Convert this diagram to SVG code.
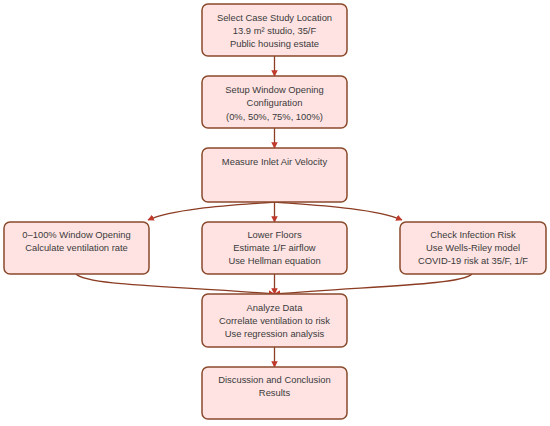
<svg xmlns="http://www.w3.org/2000/svg" width="550" height="426" viewBox="0 0 550 426">
<defs>
<style>
.box{fill:#ffe3e3;stroke:#8a4a2c;stroke-width:1.5}
.lbl{font-family:"Liberation Sans",Arial,sans-serif;font-size:9.4px;fill:#3a3a3a;text-anchor:middle}
.edge{fill:none;stroke:#8b3c22;stroke-width:1.3}
</style>
<marker id="arr" viewBox="0 0 10 10" refX="9" refY="5" markerWidth="5" markerHeight="5" orient="auto-start-reverse">
<path d="M0,0 L10,5 L0,10 z" fill="#c0392b"/>
</marker>
</defs>
<rect width="550" height="426" fill="#ffffff"/>
<g id="connectors">
<path class="edge" d="M274.5,56 L274.5,76" marker-end="url(#arr)"/>
<path class="edge" d="M274.5,128 L274.5,148" marker-end="url(#arr)"/>
<path class="edge" d="M274.5,202 C235,205 175,208 148,220" marker-end="url(#arr)"/>
<path class="edge" d="M274.5,202 L274.5,222" marker-end="url(#arr)"/>
<path class="edge" d="M274.5,202 C314,205 374,208 402,220" marker-end="url(#arr)"/>
<path class="edge" d="M76,274 C88,286 180,286 274.5,294" marker-end="url(#arr)"/>
<path class="edge" d="M274.5,274 L274.5,294" marker-end="url(#arr)"/>
<path class="edge" d="M472,274 C462,285 370,286 274.5,294" marker-end="url(#arr)"/>
<path class="edge" d="M274.5,347 L274.5,367" marker-end="url(#arr)"/>
</g>
<g id="n1">
<rect class="box" x="202" y="4" width="145" height="52" rx="6"/>
<text class="lbl" x="274.5" y="20.5">Select Case Study Location</text>
<text class="lbl" x="274.5" y="33.5">13.9 m² studio, 35/F</text>
<text class="lbl" x="274.5" y="46.5">Public housing estate</text>
</g>
<g id="n2">
<rect class="box" x="202" y="76" width="145" height="52" rx="6"/>
<text class="lbl" x="274.5" y="93">Setup Window Opening</text>
<text class="lbl" x="274.5" y="106">Configuration</text>
<text class="lbl" x="274.5" y="119.5">(0%, 50%, 75%, 100%)</text>
</g>
<g id="n3">
<rect class="box" x="202" y="148" width="145" height="54" rx="6"/>
<text class="lbl" x="274.5" y="165">Measure Inlet Air Velocity</text>
</g>
<g id="n4">
<rect class="box" x="4" y="222" width="145" height="52" rx="6"/>
<text class="lbl" x="76.5" y="238">0–100% Window Opening</text>
<text class="lbl" x="76.5" y="251">Calculate ventilation rate</text>
</g>
<g id="n5">
<rect class="box" x="202" y="222" width="145" height="52" rx="6"/>
<text class="lbl" x="274.5" y="238">Lower Floors</text>
<text class="lbl" x="274.5" y="251">Estimate 1/F airflow</text>
<text class="lbl" x="274.5" y="264">Use Hellman equation</text>
</g>
<g id="n6">
<rect class="box" x="400" y="222" width="146" height="52" rx="6"/>
<text class="lbl" x="473" y="238">Check Infection Risk</text>
<text class="lbl" x="473" y="251">Use Wells-Riley model</text>
<text class="lbl" x="473" y="264">COVID-19 risk at 35/F, 1/F</text>
</g>
<g id="n7">
<rect class="box" x="202" y="294" width="145" height="53" rx="6"/>
<text class="lbl" x="274.5" y="311">Analyze Data</text>
<text class="lbl" x="274.5" y="324">Correlate ventilation to risk</text>
<text class="lbl" x="274.5" y="337">Use regression analysis</text>
</g>
<g id="n8">
<rect class="box" x="202" y="367" width="145" height="52" rx="6"/>
<text class="lbl" x="274.5" y="383">Discussion and Conclusion</text>
<text class="lbl" x="274.5" y="396">Results</text>
</g>
</svg>
